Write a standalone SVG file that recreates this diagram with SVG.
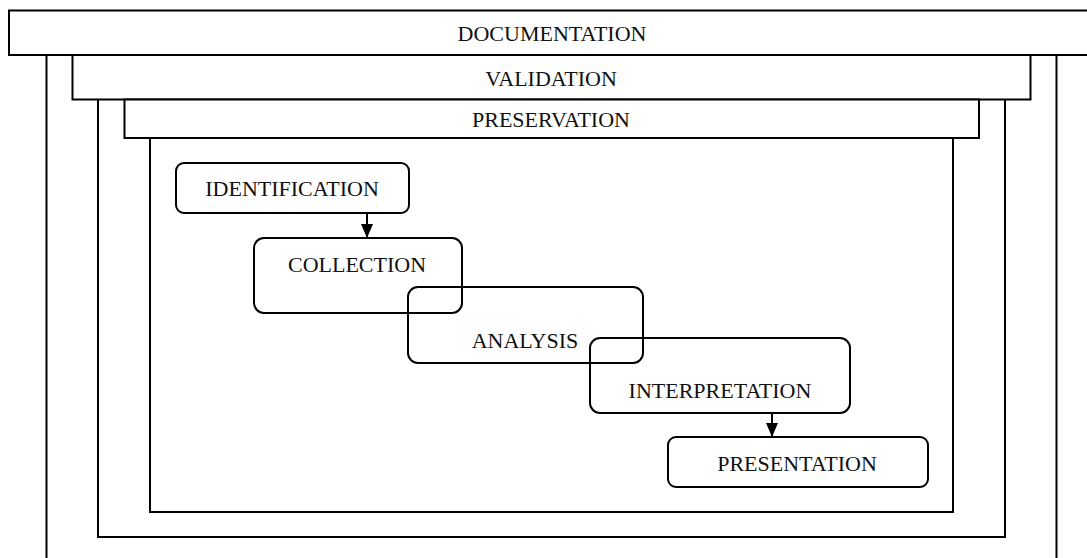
<svg xmlns="http://www.w3.org/2000/svg" width="1087" height="558" viewBox="0 0 1087 558">
  <defs>
    <style>
      .frame { fill: none; stroke: #000; stroke-width: 2; }
      .hdr { fill: #fff; stroke: #000; stroke-width: 2; }
      .step { fill: none; stroke: #000; stroke-width: 2; }
      .lbl { font-family: "Liberation Serif", "Times New Roman", serif; font-size: 22px; fill: #111; text-anchor: middle; }
      .conn { stroke: #000; stroke-width: 2; fill: none; }
    </style>
    <marker id="arrow" viewBox="0 0 14 12" refX="14" refY="6" markerWidth="14" markerHeight="12" markerUnits="userSpaceOnUse" orient="auto">
      <path d="M0,0 L14,6 L0,12 z" fill="#000"/>
    </marker>
  </defs>
  <rect width="1087" height="558" fill="#fff"/>

  <!-- nested layers: documentation > validation > preservation -->
  <g id="documentation">
    <path class="frame" d="M46.5,55 V560 M1056.5,55 V560"/>
    <rect class="hdr" x="9" y="10.5" width="1090" height="44.5"/>
    <text class="lbl" x="552" y="41">DOCUMENTATION</text>
  </g>
  <g id="validation">
    <path class="frame" d="M98,99.5 V537 H1005 V99.5"/>
    <rect class="hdr" x="72.5" y="55" width="958" height="44.5"/>
    <text class="lbl" x="551" y="86">VALIDATION</text>
  </g>
  <g id="preservation">
    <path class="frame" d="M150,138 V512 H953 V138"/>
    <rect class="hdr" x="124.5" y="99.5" width="854.5" height="38.5"/>
    <text class="lbl" x="551" y="127">PRESERVATION</text>
  </g>

  <!-- process steps -->
  <g id="identification">
    <rect class="step" x="176" y="163" width="233" height="50" rx="8"/>
    <text class="lbl" x="292" y="196">IDENTIFICATION</text>
  </g>
  <g id="collection">
    <rect class="step" x="254" y="238" width="208" height="75" rx="10"/>
    <text class="lbl" x="357" y="272">COLLECTION</text>
  </g>
  <g id="analysis">
    <rect class="step" x="408" y="287" width="235" height="76" rx="10"/>
    <text class="lbl" x="525" y="348">ANALYSIS</text>
  </g>
  <g id="interpretation">
    <rect class="step" x="590" y="338" width="260" height="75" rx="10"/>
    <text class="lbl" x="720" y="398">INTERPRETATION</text>
  </g>
  <g id="presentation">
    <rect class="step" x="668" y="437" width="260" height="50" rx="8"/>
    <text class="lbl" x="797" y="471">PRESENTATION</text>
  </g>

  <!-- connectors -->
  <g id="connectors">
    <line class="conn" x1="367" y1="213" x2="367" y2="238" marker-end="url(#arrow)"/>
    <line class="conn" x1="772" y1="413" x2="772" y2="437" marker-end="url(#arrow)"/>
  </g>
</svg>
